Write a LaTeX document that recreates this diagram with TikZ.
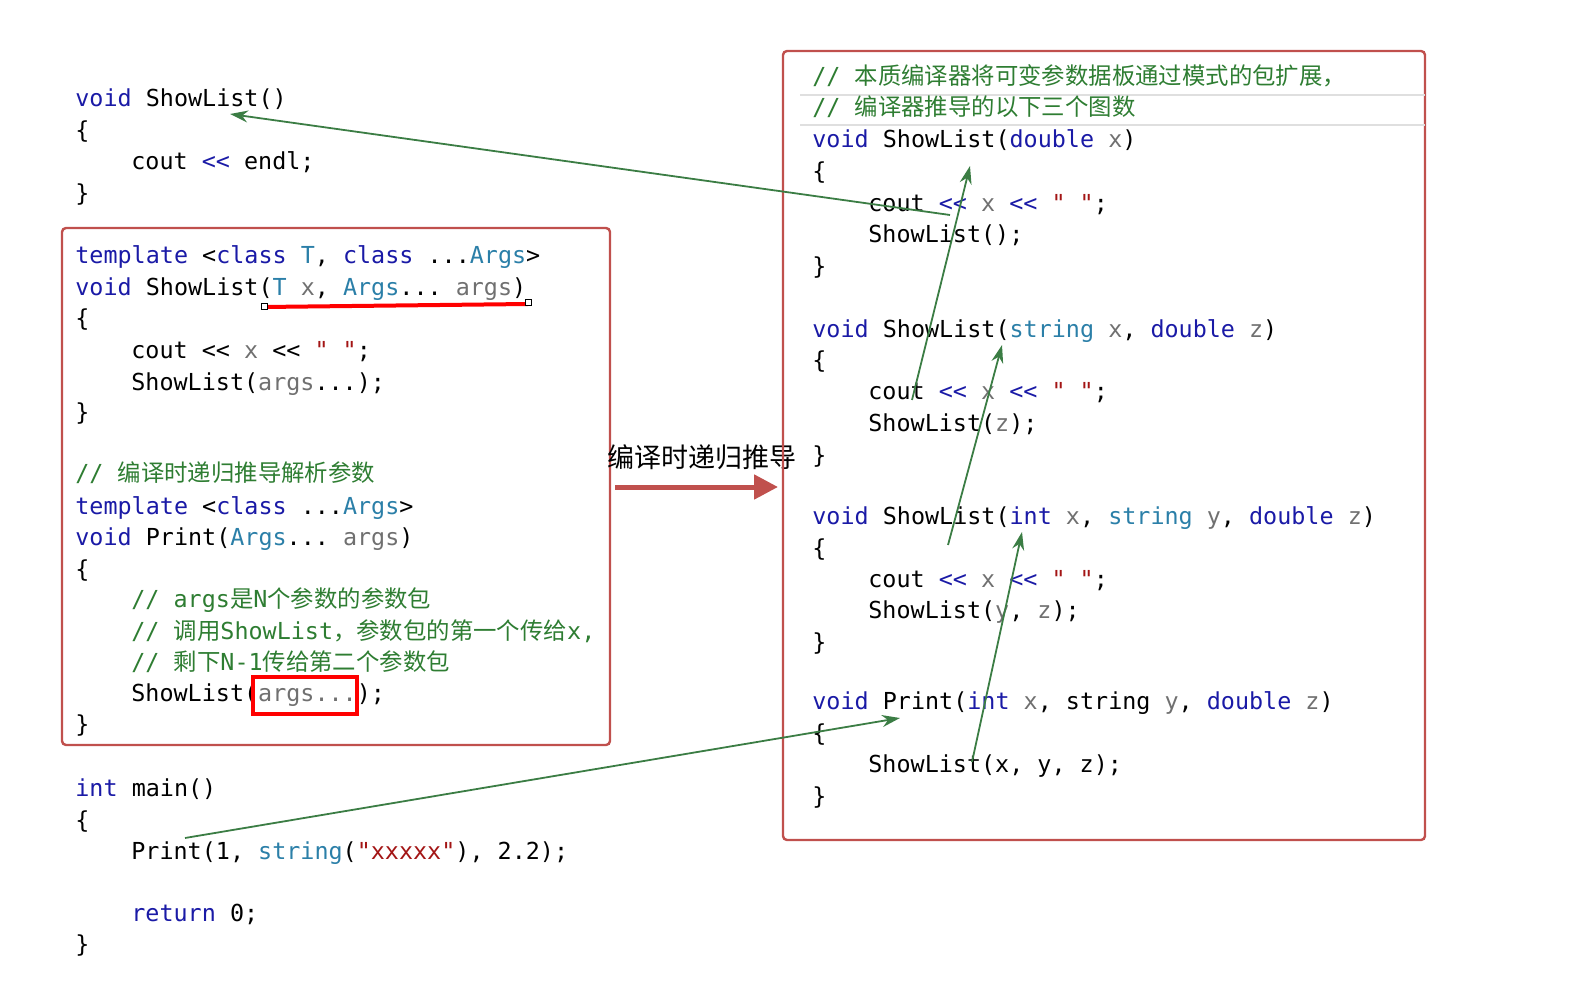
\documentclass[tikz,border=0pt]{standalone}
\usepackage{fontspec}
\setmonofont{DejaVu Sans Mono}
\newfontfamily\cjk{Noto Sans CJK SC}
\usetikzlibrary{arrows.meta}
\definecolor{kwb}{HTML}{1A1AA6}
\definecolor{tyb}{HTML}{2B7FA8}
\definecolor{strr}{HTML}{A31515}
\definecolor{cmg}{HTML}{2E7D32}
\definecolor{pag}{HTML}{707070}
\definecolor{arrg}{HTML}{3B7D44}
\definecolor{boxr}{HTML}{C0504D}
\newcommand\kwc[1]{\textcolor{kwb}{#1}}
\newcommand\tyc[1]{\textcolor{tyb}{#1}}
\newcommand\stc[1]{\textcolor{strr}{#1}}
\newcommand\cmc[1]{\textcolor{cmg}{#1}}
\newcommand\pac[1]{\textcolor{pag}{#1}}
\begin{document}
\begin{tikzpicture}[x=0.5pt,y=-0.5pt,
  code/.style={anchor=base west,inner sep=0pt,font=\ttfamily\fontsize{11.7}{14}\selectfont},
  garr/.style={draw=arrg,line width=0.9pt,-{Stealth[length=9pt,width=6pt]}},
  rbox/.style={draw=boxr,line width=1.2pt,rounded corners=2pt}]
\useasboundingbox (0,0) rectangle (1575,1000);
% left top
\node[code] (a1) at (75,107) {\kwc{void} ShowList()};
\node[code] (a2) at (75,139) {\{};
\node[code] (a3) at (131,170) {cout \kwc{<<} endl;};
\node[code] (a4) at (75,202) {\}};
% box 1
\draw[rbox] (62,228) rectangle (610,745);
\node[code] (b1) at (75,264) {\kwc{template} <\kwc{class} \tyc{T}, \kwc{class} ...\tyc{Args}>};
\node[code] (b2) at (75,296) {\kwc{void} ShowList(\tyc{T} \pac{x}, \tyc{Args}... \pac{args})};
\node[code] (b3) at (75,327) {\{};
\node[code] (b4) at (131,358) {cout << \pac{x} << \stc{" "};};
\node[code] (b5) at (131,390) {ShowList(\pac{args}...);};
\node[code] (b6) at (75,421) {\}};
\node[code] (b7) at (75,481) {\cmc{// {\cjk 编译时递归推导解析参数}}};
\node[code] (b8) at (75,514) {\kwc{template} <\kwc{class} ...\tyc{Args}>};
\node[code] (b9) at (75,545) {\kwc{void} Print(\tyc{Args}... \pac{args})};
\node[code] (b10) at (75,577) {\{};
\node[code] (b11) at (131,607) {\cmc{// args{\cjk 是}N{\cjk 个参数的参数包}}};
\node[code] (b12) at (131,639) {\cmc{// {\cjk 调用}ShowList{\cjk ，参数包的第一个传给}x,}};
\node[code] (b13) at (131,670) {\cmc{// {\cjk 剩下}N-1{\cjk 传给第二个参数包}}};
\node[code] (b14) at (131,701) {ShowList(\pac{args...});};
\node[code] (b15) at (75,732) {\}};
\draw[red,line width=2pt] (264,307) -- (528,304);
\draw[black,fill=white,line width=0.5pt] (261,304) rectangle (267,310) (525,300) rectangle (531,306);
\draw[red,line width=2pt] (253,677) rectangle (357,714);
% main
\node[code] (c1) at (75,796) {\kwc{int} main()};
\node[code] (c2) at (75,828) {\{};
\node[code] (c3) at (131,859) {Print(1, \tyc{string}(\stc{"xxxxx"}), 2.2);};
\node[code] (c4) at (131,921) {\kwc{return} 0;};
\node[code] (c5) at (75,952) {\}};
% middle
\node[anchor=center,inner sep=0pt,font=\cjk\fontsize{13.5}{15}\selectfont] (mid) at (702,457) {编译时递归推导};
\coordinate (ms) at (615,487);
\coordinate (me) at (778,487);
\draw[draw=boxr,line width=2.5pt,-{Triangle[length=12pt,width=12pt]}] (ms) -- (me);
% right box
\draw[rbox] (783,51) rectangle (1425,840);
\draw[gray!25,line width=0.8pt] (800,95) -- (1425,95) (800,125) -- (1425,125);
\node[code] (r1) at (812,85) {\cmc{// {\cjk 本质编译器将可变参数据板通过模式的包扩展，}}};
\node[code] (r2) at (812,116) {\cmc{// {\cjk 编译器推导的以下三个图数}}};
\node[code] (r3) at (812,148) {\kwc{void} ShowList(\kwc{double} \pac{x})};
\node[code] (r4) at (812,180) {\{};
\node[code] (r5) at (868,212) {cout \kwc{<<} \pac{x} \kwc{<<} \stc{" "};};
\node[code] (r6) at (868,243) {ShowList();};
\node[code] (r7) at (812,275) {\}};
\node[code] (r8) at (812,337) {\kwc{void} ShowList(\tyc{string} \pac{x}, \kwc{double} \pac{z})};
\node[code] (r9) at (812,369) {\{};
\node[code] (r10) at (868,400) {cout \kwc{<<} \pac{x} \kwc{<<} \stc{" "};};
\node[code] (r11) at (868,431) {ShowList(\pac{z});};
\node[code] (r12) at (812,463) {\}};
\node[code] (r13) at (812,524) {\kwc{void} ShowList(\kwc{int} \pac{x}, \tyc{string} \pac{y}, \kwc{double} \pac{z})};
\node[code] (r14) at (812,556) {\{};
\node[code] (r15) at (868,587) {cout \kwc{<<} \pac{x} \kwc{<<} \stc{" "};};
\node[code] (r16) at (868,618) {ShowList(\pac{y}, \pac{z});};
\node[code] (r17) at (812,650) {\}};
\node[code] (r18) at (812,709) {\kwc{void} Print(\kwc{int} \pac{x}, string \pac{y}, \kwc{double} \pac{z})};
\node[code] (r19) at (812,741) {\{};
\node[code] (r20) at (868,772) {ShowList(x, y, z);};
\node[code] (r21) at (812,804) {\}};
% green arrows
\coordinate (g1s) at (950,215); \coordinate (g1e) at (230,114);
\coordinate (g2s) at (912,400); \coordinate (g2e) at (970,166);
\coordinate (g3s) at (948,545); \coordinate (g3e) at (1002,345);
\coordinate (g4s) at (972,762); \coordinate (g4e) at (1022,532);
\coordinate (g5s) at (185,838); \coordinate (g5e) at (900,718);
\draw[garr] (g1s) -- (g1e);
\draw[garr] (g2s) -- (g2e);
\draw[garr] (g3s) -- (g3e);
\draw[garr] (g4s) -- (g4e);
\draw[garr] (g5s) -- (g5e);
\end{tikzpicture}
\end{document}
